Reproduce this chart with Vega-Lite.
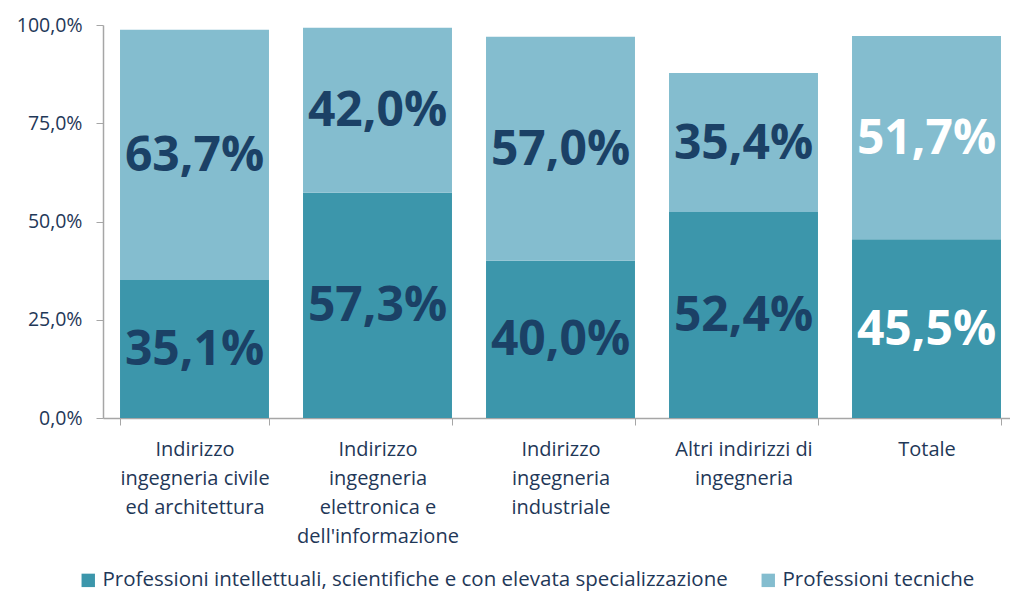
{
  "$schema": "https://vega.github.io/schema/vega-lite/v6.json",
  "width": 907,
  "height": 393,
  "autosize": {"type": "none"},
  "padding": {"left": 103, "top": 25, "right": 0, "bottom": 175},
  "config": {
    "locale": {"number": {"decimal": ",", "thousands": ".", "grouping": [3], "currency": ["€", ""]}},
    "view": {"stroke": null},
    "font": "Open Sans"
  },
  "data": {
    "values": [
      {"cat": "Indirizzo ingegneria civile ed architettura", "prof": "Professioni intellettuali, scientifiche e con elevata specializzazione", "value": 0.351},
      {"cat": "Indirizzo ingegneria civile ed architettura", "prof": "Professioni tecniche", "value": 0.637},
      {"cat": "Indirizzo ingegneria elettronica e dell'informazione", "prof": "Professioni intellettuali, scientifiche e con elevata specializzazione", "value": 0.573},
      {"cat": "Indirizzo ingegneria elettronica e dell'informazione", "prof": "Professioni tecniche", "value": 0.420},
      {"cat": "Indirizzo ingegneria industriale", "prof": "Professioni intellettuali, scientifiche e con elevata specializzazione", "value": 0.400},
      {"cat": "Indirizzo ingegneria industriale", "prof": "Professioni tecniche", "value": 0.570},
      {"cat": "Altri indirizzi di ingegneria", "prof": "Professioni intellettuali, scientifiche e con elevata specializzazione", "value": 0.524},
      {"cat": "Altri indirizzi di ingegneria", "prof": "Professioni tecniche", "value": 0.354},
      {"cat": "Totale", "prof": "Professioni intellettuali, scientifiche e con elevata specializzazione", "value": 0.455},
      {"cat": "Totale", "prof": "Professioni tecniche", "value": 0.517}
    ]
  },
  "encoding": {
    "x": {
      "field": "cat",
      "type": "nominal",
      "sort": null,
      "title": null,
      "scale": {"range": [0, 915], "paddingInner": 0.186, "paddingOuter": 0.093},
      "axis": {
        "labelAngle": 0,
        "labelFontSize": 20,
        "labelColor": "#1F3858",
        "labelLineHeight": 29,
        "labelPadding": 14,
        "labelLimit": 0,
        "tickSize": 7,
        "tickBand": "extent",
        "tickColor": "#A6A6A6",
        "domainColor": "#A6A6A6",
        "domainWidth": 1.5,
        "labelExpr": "datum.value === 'Indirizzo ingegneria civile ed architettura' ? ['Indirizzo', 'ingegneria civile', 'ed architettura'] : datum.value === \"Indirizzo ingegneria elettronica e dell'informazione\" ? ['Indirizzo', 'ingegneria', 'elettronica e', \"dell'informazione\"] : datum.value === 'Indirizzo ingegneria industriale' ? ['Indirizzo', 'ingegneria', 'industriale'] : datum.value === 'Altri indirizzi di ingegneria' ? ['Altri indirizzi di', 'ingegneria'] : datum.value"
      }
    }
  },
  "layer": [
    {
      "mark": {"type": "bar"},
      "encoding": {
        "y": {
          "field": "value",
          "type": "quantitative",
          "stack": "zero",
          "title": null,
          "scale": {"domain": [0, 1]},
          "axis": {
            "values": [0, 0.25, 0.5, 0.75, 1],
            "format": ".1%",
            "grid": false,
            "labelFontSize": 19.5,
            "labelColor": "#1F3858",
            "labelPadding": 14,
            "tickSize": 7,
            "tickColor": "#A6A6A6",
            "domainColor": "#A6A6A6",
            "domainWidth": 1.5
          }
        },
        "order": {"field": "prof", "sort": "ascending"},
        "color": {
          "field": "prof",
          "type": "nominal",
          "scale": {"range": ["#3C96AB", "#84BDCF"]},
          "legend": {
            "orient": "none",
            "legendX": -25,
            "legendY": 545,
            "direction": "horizontal",
            "title": null,
            "labelFontSize": 20.5,
            "labelColor": "#1F3858",
            "symbolType": "square",
            "symbolSize": 180,
            "symbolStrokeWidth": 0,
            "symbolOpacity": 1,
            "columnPadding": 30,
            "labelLimit": 0
          }
        }
      }
    },
    {
      "mark": {"type": "text", "fontSize": 48, "fontWeight": "bold", "baseline": "middle", "dy": 2},
      "encoding": {
        "y": {"field": "value", "type": "quantitative", "stack": "zero", "bandPosition": 0.5},
        "detail": {"field": "prof"},
        "order": {"field": "prof", "sort": "ascending"},
        "text": {"field": "value", "type": "quantitative", "format": ".1%"},
        "color": {
          "condition": {"test": "datum.cat === 'Totale'", "value": "#FFFFFF"},
          "value": "#1B4166"
        }
      }
    }
  ]
}
